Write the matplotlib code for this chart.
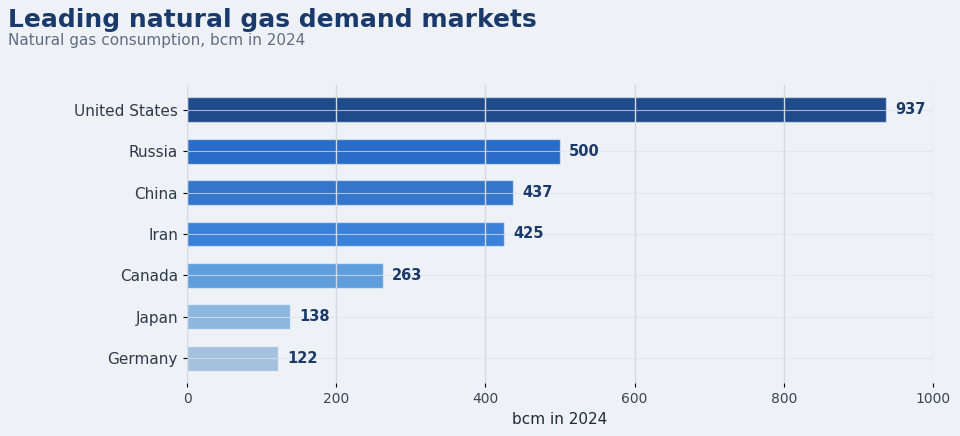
import matplotlib
matplotlib.use("Agg")
import matplotlib.pyplot as plt

countries = ["United States", "Russia", "China", "Iran", "Canada", "Japan", "Germany"]
values = [937, 500, 437, 425, 263, 138, 122]
colors = ["#1f4b8a", "#2b6cc9", "#3476cc", "#3b80d9", "#5f9ddc", "#8cb7df", "#a6c1dd"]
xticks = [0, 200, 400, 600, 800, 1000]

bg = "#eef1f6"
fig = plt.figure(figsize=(9.6, 4.36), dpi=100, facecolor=bg)
ax = fig.add_axes([187 / 960, 1 - 383 / 436, (933 - 187) / 960, (383 - 85) / 436])
ax.set_facecolor(bg)

# top bar first
ypos = list(range(len(countries)))[::-1]
bars = ax.barh(ypos, values, height=0.6, color=colors,
               edgecolor=(1, 1, 1, 0.5), linewidth=1, zorder=1)

for y, v in zip(ypos, values):
    ax.text(v + 12, y, str(v), va="center", ha="left", fontsize=10.5,
            fontweight="bold", color="#1a3a6b", zorder=3)

ax.set_xlim(0, 1000)
ax.set_ylim(-0.6, 6.6)
ax.set_xticks(xticks)
ax.set_yticks(ypos)
ax.set_yticklabels(countries)
ax.tick_params(axis="y", labelsize=11, labelcolor="#2f3b4c", length=3)
ax.tick_params(axis="x", labelsize=10, labelcolor="#3a4555", length=3)

ax.set_axisbelow(False)
ax.xaxis.grid(True, color="#d3dae5", linewidth=1, zorder=2)
ax.yaxis.grid(True, color="#dde3ec", linewidth=0.8, alpha=0.7, zorder=2)
for s in ax.spines.values():
    s.set_visible(False)

ax.set_xlabel("bcm in 2024", fontsize=11, color="#1f2a3a")

fig.text(8 / 960, 1 - 20 / 436, "Leading natural gas demand markets",
         fontsize=18, fontweight="bold", color="#1a3a6b", va="center", ha="left")
fig.text(8 / 960, 1 - 40 / 436, "Natural gas consumption, bcm in 2024",
         fontsize=11, color="#5f6e82", va="center", ha="left")

fig.savefig("out.png", dpi=100, facecolor=bg)
